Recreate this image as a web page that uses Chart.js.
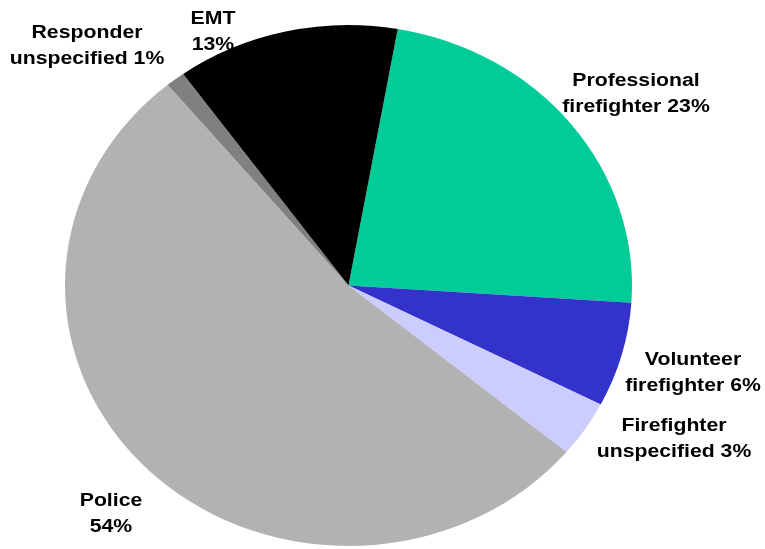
<!DOCTYPE html>
<html>
<head>
<meta charset="utf-8">
<script src="https://cdn.jsdelivr.net/npm/chart.js@4"></script>
<style>
  html, body { margin: 0; padding: 0; background: #fff; }
  #wrap { width: 765px; height: 549px; position: relative; }
</style>
</head>
<body>
<div id="wrap"><canvas id="chart-pie"></canvas></div>
<script>
const categories = [
  "Professional firefighter",
  "Volunteer firefighter",
  "Firefighter unspecified",
  "Police",
  "Responder unspecified",
  "EMT",
];
const shares = [23.3, 6.5, 3.5, 53.0, 1.1, 12.7];
const pctLabels = ["23%", "6%", "3%", "54%", "1%", "13%"];
const sliceColors = ["#00cc99", "#3333cc", "#ccccff", "#b2b2b2", "#808080", "#000000"];

// where each label block sits (center x, first baseline)
const labelPos = [
  [636, 86],
  [693, 365],
  [674, 431],
  [111, 506],
  [87, 37.5],
  [213, 24],
];

const stretchX = 283.5 / 260.5; // pie is a bit wider than tall

const ellipsePlugin = {
  id: "ellipse",
  beforeDatasetsDraw(chart) {
    const ctx = chart.ctx;
    const meta = chart.getDatasetMeta(0);
    const cx = meta.data[0].x;
    const cy = meta.data[0].y;
    ctx.save();
    ctx.translate(cx, cy);
    ctx.scale(stretchX, 1);
    ctx.translate(-cx, -cy);
  },
  afterDatasetsDraw(chart) {
    chart.ctx.restore();
  },
};

const labelPlugin = {
  id: "sliceLabels",
  afterDraw(chart) {
    const ctx = chart.ctx;
    ctx.save();
    ctx.fillStyle = "#000";
    ctx.font = "bold 18px 'Liberation Sans', Arial, sans-serif";
    ctx.textAlign = "center";
    ctx.textBaseline = "alphabetic";
    categories.forEach((name, i) => {
      const words = name.split(" ");
      const lines = words.length > 1
        ? [words[0], words.slice(1).join(" ") + " " + pctLabels[i]]
        : [name, pctLabels[i]];
      const [x, y] = labelPos[i];
      lines.forEach((line, j) => {
        ctx.save();
        ctx.translate(x, y + j * 26);
        ctx.scale(1.18, 1);
        ctx.fillText(line, 0, 0);
        ctx.restore();
      });
    });
    ctx.restore();
  },
};

new Chart(document.getElementById("chart-pie"), {
  type: "pie",
  data: {
    labels: categories,
    datasets: [
      {
        data: shares,
        backgroundColor: sliceColors,
        borderWidth: 0,
      },
    ],
  },
  options: {
    responsive: true,
    maintainAspectRatio: false,
    animation: false,
    rotation: 10,
    layout: { padding: { top: 25, bottom: 3, left: 88, right: 156 } },
    plugins: {
      legend: { display: false },
      tooltip: { enabled: false },
    },
  },
  plugins: [ellipsePlugin, labelPlugin],
});
</script>
</body>
</html>
